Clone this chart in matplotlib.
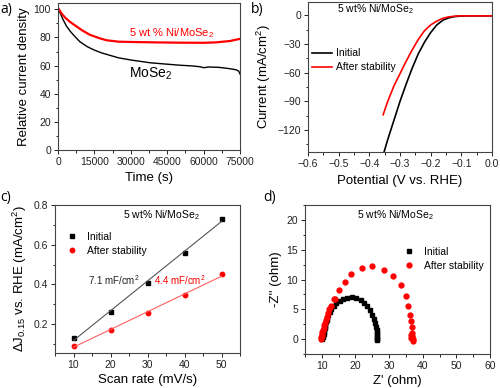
import numpy as np
import matplotlib
matplotlib.use("Agg")
import matplotlib.pyplot as plt
from matplotlib.ticker import AutoMinorLocator

plt.rcParams['font.family'] = ['Liberation Sans', 'DejaVu Sans']
plt.rcParams['mathtext.fontset'] = 'custom'
plt.rcParams['mathtext.rm'] = 'Liberation Sans'
plt.rcParams['mathtext.it'] = 'Liberation Sans:italic'
plt.rcParams['font.size'] = 7.5

# a) stability
t_mose2 = [0, 1000, 2000, 3500, 5000, 6500, 9000, 12000, 15000, 18000, 21000, 25000, 30000,
           38000, 45000, 50000, 55000, 58500, 60000, 62000, 66000, 70000, 73500, 74500, 75000]
j_mose2 = [100, 97, 93, 88, 84.5, 81.5, 77, 73.5, 71, 69, 67.5, 65.5, 64,
           62, 61, 60.3, 59.8, 59.2, 58.5, 59, 58.8, 58, 57, 56, 54]
t_ni = [0, 1500, 3000, 5000, 7500, 10000, 13000, 17000, 20000, 25000, 30000, 40000, 50000,
        60000, 65000, 68000, 71000, 73000, 75000]
j_ni = [101, 97, 94, 91, 88, 85, 82, 79.5, 78, 77, 76.8, 76.5, 76.3,
        76.2, 76.5, 77, 77.5, 78.3, 79]

# b) polarization curves
v_init = [-0.352, -0.34, -0.32, -0.30, -0.28, -0.26, -0.24, -0.22, -0.20, -0.18, -0.16,
          -0.14, -0.12, -0.10, -0.08, -0.05, -0.02, 0.0]
i_init = [-143, -130, -110, -90, -72, -55, -40, -28, -18, -10, -5,
          -2.5, -1.2, -0.7, -0.5, -0.5, -0.5, -0.5]
v_after = [-0.355, -0.34, -0.32, -0.30, -0.28, -0.26, -0.24, -0.22, -0.20, -0.18, -0.16,
           -0.14, -0.12, -0.10, -0.08, -0.05, 0.0]
i_after = [-104, -90, -74, -61, -48, -36, -25, -16, -10, -6, -3,
           -1.5, -0.8, -0.5, -0.5, -0.5, -0.5]

# c) double layer capacitance
scan = [10, 20, 30, 40, 50]
dj_init = [0.13, 0.26, 0.405, 0.56, 0.73]
dj_after = [0.09, 0.17, 0.255, 0.345, 0.45]

# d) Nyquist
zr_init = [10.2, 10.3, 10.4, 10.5, 10.6, 10.7, 10.8, 10.9, 11.0, 11.2, 11.4, 11.6, 11.9, 12.3,
           12.8, 13.5, 14.3, 15.3, 16.4, 17.6, 18.9, 20.3, 21.5, 22.6, 23.5, 24.3, 24.9,
           25.4, 25.8, 26.1, 26.3, 26.4, 26.5, 26.5, 26.5, 26.4, 26.3]
zi_init = [0.0, 0.3, 0.6, 0.9, 1.2, 1.5, 1.8, 2.1, 2.4, 2.8, 3.2, 3.6, 4.1, 4.6,
           5.1, 5.6, 6.0, 6.4, 6.7, 6.9, 7.0, 6.9, 6.6, 6.1, 5.5, 4.8, 4.1,
           3.4, 2.7, 2.1, 1.6, 1.2, 0.8, 0.5, 0.2, 0.0, -0.1]
zr_after = [9.8, 9.9, 10.0, 10.1, 10.2, 10.3, 10.5, 10.7, 10.9, 11.1, 11.4, 11.7, 12.1, 12.6,
            13.6, 14.0, 15.2, 16.8, 18.8, 21.8, 24.9, 28.4, 31.2, 33.4, 34.9, 35.6, 36.2,
            36.6, 36.8, 36.9, 36.8, 36.5, 37.1, 36.7, 37.0, 36.6]
zi_after = [0.0, 0.3, 0.6, 0.9, 1.2, 1.5, 1.9, 2.3, 2.7, 3.2, 3.7, 4.4, 5.0, 5.6,
            6.8, 6.8, 8.2, 9.6, 11.0, 11.9, 12.3, 11.6, 10.6, 9.1, 7.2, 5.6, 4.0,
            3.0, 2.0, 1.0, 0.4, 0.7, 0.1, 0.5, -0.3, 0.2]

fig = plt.figure(figsize=(5, 3.88), dpi=100)
W, H = 500, 388


def add_ax(l, r, t, b):
    return fig.add_axes([l / W, (H - b) / H, (r - l) / W, (b - t) / H])


def style(ax):
    for s in ax.spines.values():
        s.set_color('#444444')
        s.set_linewidth(0.8)
    ax.tick_params(direction='out', length=3, width=0.7, colors='#222222', labelsize=7.5, pad=2)
    ax.tick_params(which='minor', direction='out', length=1.8, width=0.6)
    ax.xaxis.set_minor_locator(AutoMinorLocator(2))
    ax.yaxis.set_minor_locator(AutoMinorLocator(2))


ax1 = add_ax(58, 240, 3, 150)
ax2 = add_ax(308, 492, 2, 152)
ax3 = add_ax(55, 240, 205, 353)
ax4 = add_ax(305, 490, 205, 354)

# a
style(ax1)
ax1.plot(t_mose2, j_mose2, color='black', lw=1.0)
ax1.plot(t_ni, j_ni, color='red', lw=1.6)
ax1.set_xlim(0, 75000)
ax1.set_ylim(0, 104.5)
ax1.set_xticks([0, 15000, 30000, 45000, 60000, 75000])
ax1.set_yticks([0, 20, 40, 60, 80, 100])
ax1.set_xlabel('Time (s)', fontsize=9.5, labelpad=4)
ax1.set_ylabel('Relative current density', fontsize=9.5, labelpad=3)
ax1.text(46600, 83, '5 wt % Ni/MoSe$_2$', color='red', ha='center', va='center', fontsize=8)
ax1.text(38000, 54.5, 'MoSe$_2$', color='black', ha='center', va='center', fontsize=10)

# b
style(ax2)
ax2.plot(v_init, i_init, color='black', lw=1.2, label='Initial')
ax2.plot(v_after, i_after, color='red', lw=1.2, label='After stability')
ax2.set_xlim(-0.6, 0.0)
ax2.set_ylim(-143, 14)
ax2.set_xticks([-0.6, -0.5, -0.4, -0.3, -0.2, -0.1, 0.0])
ax2.set_yticks([-120, -90, -60, -30, 0])
ax2.set_xlabel('Potential (V vs. RHE)', fontsize=9.5, labelpad=4)
ax2.set_ylabel('Current (mA/cm$^2$)', fontsize=9.5, labelpad=3)
ax2.text(0.16, 0.93, '5 wt% Ni/MoSe$_2$', transform=ax2.transAxes, fontsize=7.5)
ax2.legend(loc='upper left', bbox_to_anchor=(-0.02, 0.74), frameon=False, fontsize=7.5,
           handlelength=2.0, handletextpad=0.3, labelspacing=0.4, borderpad=0.2)

# c
style(ax3)
ax3.plot(scan, dj_init, 's', color='black', ms=3.2, label='Initial')
ax3.plot(scan, dj_after, 'o', color='red', ms=3.2, label='After stability')
p1 = np.polyfit(scan, dj_init, 1)
p2 = np.polyfit(scan, dj_after, 1)
xs = np.array([scan[0], scan[-1]])
ax3.plot(xs, np.polyval(p1, xs), color='#555555', lw=0.8)
ax3.plot(xs, np.polyval(p2, xs), color='#ff6060', lw=0.8)
ax3.set_xlim(5, 55)
ax3.set_ylim(0.054, 0.8)
ax3.set_xticks([10, 20, 30, 40, 50])
ax3.set_yticks([0.2, 0.4, 0.6, 0.8])
ax3.set_xlabel('Scan rate (mV/s)', fontsize=9.5, labelpad=3)
ax3.set_ylabel('$\\Delta$J$_{0.15}$ vs. RHE (mA/cm$^2$)', fontsize=9.5, labelpad=3)
ax3.text(0.37, 0.93, '5 wt% Ni/MoSe$_2$', transform=ax3.transAxes, fontsize=7.5, va='center')
ax3.text(20.8, 0.422, '7.1 mF/cm$^2$', color='#222222', fontsize=7, ha='center', va='center')
ax3.text(38.6, 0.422, '4.4 mF/cm$^2$', color='red', fontsize=7, ha='center', va='center')
ax3.legend(loc='upper left', bbox_to_anchor=(0.02, 0.87), frameon=False, fontsize=7.5,
           handlelength=1.2, handletextpad=0.8, labelspacing=0.4, borderpad=0.2)

# d
style(ax4)
ax4.plot(zr_init, zi_init, 's', color='black', ms=3.5, label='Initial')
ax4.plot(zr_after, zi_after, 'o', color='red', ms=3.5, label='After stability')
ax4.set_xlim(5, 60)
ax4.set_ylim(-2.5, 22.5)
ax4.set_xticks([10, 20, 30, 40, 50, 60])
ax4.set_yticks([0, 5, 10, 15, 20])
ax4.set_xlabel("Z' (ohm)", fontsize=9.5, labelpad=3)
ax4.set_ylabel("-Z'' (ohm)", fontsize=9.5, labelpad=3)
ax4.text(0.28, 0.93, '5 wt% Ni/MoSe$_2$', transform=ax4.transAxes, fontsize=7.5, va='center')
ax4.legend(loc='upper left', bbox_to_anchor=(0.49, 0.77), frameon=False, fontsize=7.5,
           handlelength=1.2, handletextpad=0.8, labelspacing=0.4, borderpad=0.2)

# panel letters
for lab, x, y in [('a)', 0, 10), ('b)', 251, 10), ('c)', 0, 198), ('d)', 263, 198)]:
    fig.text(x / W, 1 - y / H, lab, fontsize=10, va='center', ha='left',
             family=['Open Sans', 'DejaVu Sans'])

fig.savefig('out.png', dpi=100)
